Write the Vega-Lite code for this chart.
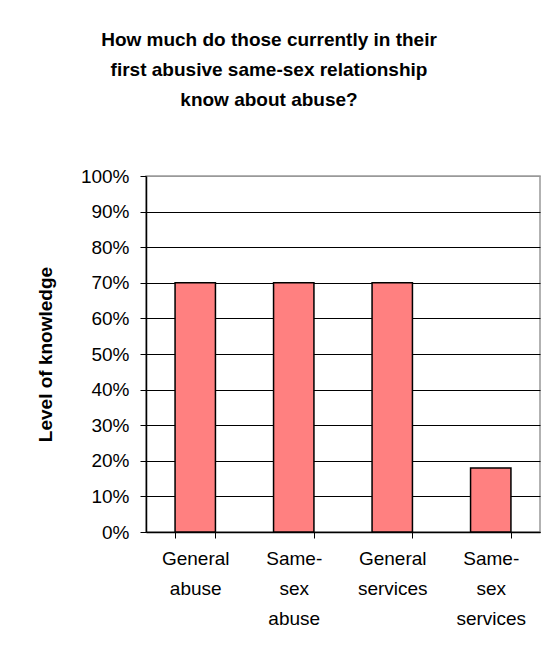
{
  "$schema": "https://vega.github.io/schema/vega-lite/v6.json",
  "width": 394,
  "height": 356,
  "autosize": {"type": "none"},
  "padding": {"left": 146, "top": 176, "right": 14, "bottom": 132},
  "background": "white",
  "title": {
    "text": ["How much do those currently in their", "first abusive same-sex relationship", "know about abuse?"],
    "font": "Liberation Sans",
    "fontSize": 19,
    "fontWeight": "bold",
    "color": "black",
    "lineHeight": 30,
    "anchor": "middle",
    "dx": -74,
    "offset": 57
  },
  "data": {
    "values": [
      {"category": "General abuse", "knowledge": 0.70},
      {"category": "Same-sex abuse", "knowledge": 0.70},
      {"category": "General services", "knowledge": 0.70},
      {"category": "Same-sex services", "knowledge": 0.18}
    ]
  },
  "mark": {"type": "bar", "color": "#FF8080", "stroke": "black", "strokeWidth": 1.5},
  "encoding": {
    "x": {
      "field": "category",
      "type": "nominal",
      "sort": null,
      "scale": {"paddingInner": 0.59, "paddingOuter": 0.295},
      "axis": {
        "title": null,
        "labelAngle": 0,
        "tickBand": "extent",
        "labelExpr": "datum.label == 'General abuse' ? ['General','abuse'] : datum.label == 'Same-sex abuse' ? ['Same-','sex','abuse'] : datum.label == 'General services' ? ['General','services'] : datum.label == 'Same-sex services' ? ['Same-','sex','services'] : ''",
        "labelFont": "Liberation Sans",
        "labelFontSize": 19,
        "labelColor": "black",
        "labelLineHeight": 30,
        "labelPadding": 11,
        "tickColor": "black",
        "tickSize": 6,
        "domainColor": "black",
        "labelBaseline": "top"
      }
    },
    "y": {
      "field": "knowledge",
      "type": "quantitative",
      "scale": {"domain": [0, 1]},
      "axis": {
        "title": "Level of knowledge",
        "titleFont": "Liberation Sans",
        "titleFontSize": 19,
        "titleFontWeight": "bold",
        "titleColor": "black",
        "titlePadding": 25,
        "values": [0, 0.1, 0.2, 0.3, 0.4, 0.5, 0.6, 0.7, 0.8, 0.9, 1],
        "format": ".0%",
        "labelFont": "Liberation Sans",
        "labelFontSize": 19,
        "labelColor": "black",
        "labelPadding": 11,
        "tickColor": "black",
        "tickSize": 6,
        "domainColor": "black",
        "grid": true,
        "gridColor": {"condition": {"test": "datum.value === 1", "value": "#999999"}, "value": "black"},
        "gridOpacity": 1
      }
    }
  },
  "config": {
    "view": {"stroke": "#999999", "strokeWidth": 1.5},
    "axis": {"domainWidth": 1.5}
  }
}
